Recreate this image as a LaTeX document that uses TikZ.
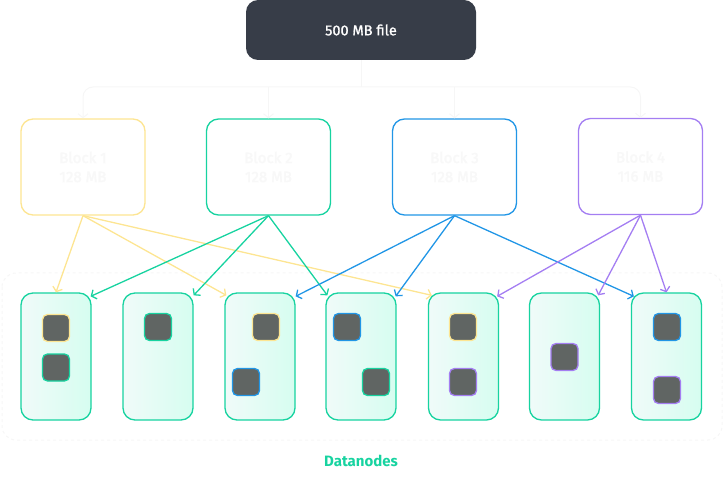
\documentclass[tikz,border=0pt]{standalone}
\usepackage{fontspec}
\setmainfont{Fira Sans}
\newfontfamily\medfont{Fira Sans}[FakeBold=1.2]
\usetikzlibrary{arrows.meta}
\definecolor{dark}{HTML}{373D48}
\definecolor{cyel}{HTML}{FDE592}
\definecolor{cgrn}{HTML}{17D3A0}
\definecolor{cblu}{HTML}{2196E6}
\definecolor{cpur}{HTML}{A47EF2}
\definecolor{faintc}{HTML}{F6F6F6}
\definecolor{ghost}{HTML}{F8F8F8}
\definecolor{sqfill}{HTML}{606563}
\definecolor{dnleft}{HTML}{F0FBF9}
\definecolor{dnright}{HTML}{D6FDF0}
\tikzset{
  blockbox/.style={draw, line width=1.3pt, rounded corners=12pt, minimum width=124pt, minimum height=96pt, fill=white, align=center, text=ghost, font=\medfont\fontsize{15}{19}\selectfont, inner sep=0pt},
  dnbox/.style={draw=cgrn, line width=1.3pt, rounded corners=12pt, minimum width=70pt, minimum height=127pt, left color=dnleft, right color=dnright, inner sep=0pt},
  sq/.style={draw, line width=1.3pt, rounded corners=5pt, minimum size=27pt, fill=sqfill, inner sep=0pt},
  faint/.style={draw=faintc, line width=1pt},
  tip/.style={-{Straight Barb[length=4pt,width=10pt]}},
  link/.style={line width=1.3pt, tip},
}
\begin{document}
\begin{tikzpicture}[x=1pt,y=-1pt]
\useasboundingbox (0,0) rectangle (724,484);
% datanode container
\draw[faintc, dashed, line width=1pt, rounded corners=14pt] (2,273) rectangle (722,440);
% file
\node[fill=dark, rounded corners=12pt, minimum width=230pt, minimum height=60pt, text=white, font=\medfont\fontsize{14.5}{17}\selectfont, inner sep=0pt] (file) at (361,30) {500 MB file};
% blocks
\node[blockbox, draw=cyel] (b1) at (83,167) {Block 1\\128 MB};
\node[blockbox, draw=cgrn] (b2) at (268.5,167) {Block 2\\128 MB};
\node[blockbox, draw=cblu] (b3) at (454.5,167) {Block 3\\128 MB};
\node[blockbox, draw=cpur] (b4) at (640.5,166.5) {Block 4\\116 MB};
% faint distribution lines
\coordinate (hub) at (361,87);
\draw[faint] (file.south) -- (hub);
\draw[faint, tip, rounded corners=10pt] (hub) -| (b1.north);
\draw[faint, tip, rounded corners=10pt] (hub) -| (b4.north);
\draw[faint, tip] (b2.north |- hub) -- (b2.north);
\draw[faint, tip] (b3.north |- hub) -- (b3.north);
% datanodes
\node[dnbox] (d1) at (56,356.5) {};
\node[dnbox] (d2) at (158,356.5) {};
\node[dnbox] (d3) at (260,356.5) {};
\node[dnbox] (d4) at (361,356.5) {};
\node[dnbox] (d5) at (463.5,356.5) {};
\node[dnbox] (d6) at (564.5,356.5) {};
\node[dnbox] (d7) at (666.5,356.5) {};
% block replicas
\node[sq, draw=cyel] (s11) at (56,328) {};
\node[sq, draw=cgrn] (s12) at (56,367.5) {};
\node[sq, draw=cgrn] (s21) at (158,327) {};
\node[sq, draw=cyel] (s31) at (266,327) {};
\node[sq, draw=cblu] (s32) at (246,382) {};
\node[sq, draw=cblu] (s41) at (347,327) {};
\node[sq, draw=cgrn] (s42) at (376,382) {};
\node[sq, draw=cyel] (s51) at (463,327) {};
\node[sq, draw=cpur] (s52) at (463,382) {};
\node[sq, draw=cpur] (s61) at (564.5,357) {};
\node[sq, draw=cblu] (s71) at (667,327) {};
\node[sq, draw=cpur] (s72) at (667,390) {};
% replication links
\draw[link, cyel] (b1.south) -- (d1.north);
\draw[link, cyel] (b1.south) -- ([shift={(2,3)}]d3.north west);
\draw[link, cyel] (b1.south) -- ([shift={(4,3)}]d5.north west);
\draw[link, cgrn] (b2.south) -- ([shift={(-1,4)}]d1.north east);
\draw[link, cgrn] (b2.south) -- ([shift={(0,3)}]d2.north east);
\draw[link, cgrn] (b2.south) -- ([shift={(2,3)}]d4.north west);
\draw[link, cblu] (b3.south) -- ([shift={(0,4)}]d3.north east);
\draw[link, cblu] (b3.south) -- ([shift={(-1,4)}]d4.north east);
\draw[link, cblu] (b3.south) -- ([shift={(3,4)}]d7.north west);
\draw[link, cpur] (b4.south) -- ([shift={(-2,4)}]d5.north east);
\draw[link, cpur] (b4.south) -- ([shift={(-2,3)}]d6.north east);
\draw[link, cpur] (b4.south) -- (d7.north);
% label
\node[text=cgrn, font=\fontsize{15}{18}\selectfont\bfseries] (lbl) at (361,461) {Datanodes};
\end{tikzpicture}
\end{document}
